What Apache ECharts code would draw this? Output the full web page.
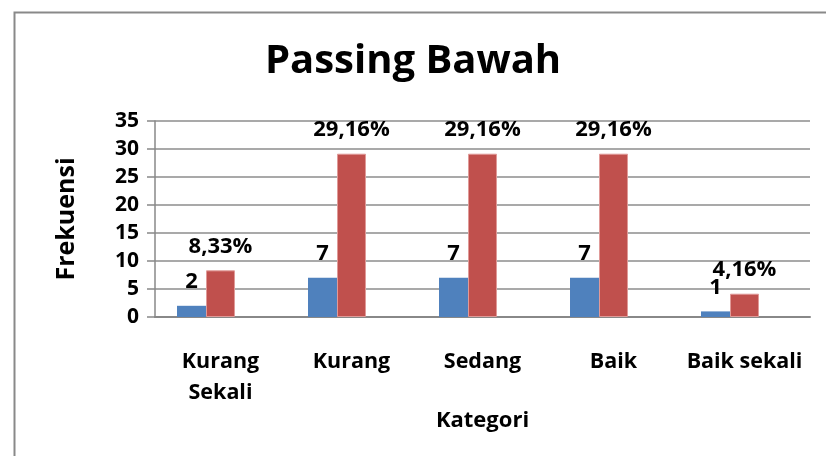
<!DOCTYPE html>
<html>
<head>
<meta charset="utf-8">
<script src="https://cdn.jsdelivr.net/npm/echarts@6/dist/echarts.min.js"></script>
<style>
 html,body{margin:0;padding:0;background:#fff}
 #chart{width:826px;height:456px}
</style>
</head>
<body>
<div id="chart"></div>
<script>
// data
const kategori=['Kurang\nSekali','Kurang','Sedang','Baik','Baik sekali'];
const frekuensi=[2,7,7,7,1];
const persen=[8.33,29.16,29.16,29.16,4.16];
const yTicks={min:0,max:35,step:5};

const font='"Open Sans", Lato, sans-serif';
const txt=(s)=>({fontFamily:font,fontSize:s,fontWeight:'bold',color:'#000'});
const c=echarts.init(document.getElementById('chart'));
c.setOption({
 animation:false,
 textStyle:{fontFamily:font},
 graphic:[{type:'rect',left:12,top:10,shape:{width:900,height:500},
  style:{fill:'none',stroke:'#898989',lineWidth:2}}],
 title:{text:'Passing Bawah',left:'center',top:37,textStyle:txt(40)},
 grid:{left:155,right:16,top:121,bottom:139},
 xAxis:{
  type:'category',data:kategori,
  name:'Kategori',nameLocation:'middle',nameGap:93,nameTextStyle:txt(22),
  axisLine:{lineStyle:{color:'#888',width:2}},
  axisTick:{show:false},
  axisLabel:Object.assign({interval:0,margin:29,lineHeight:31},txt(21.5))
 },
 yAxis:{
  type:'value',min:yTicks.min,max:yTicks.max,interval:yTicks.step,
  name:'Frekuensi',nameLocation:'middle',nameGap:76,nameTextStyle:txt(25),
  axisLine:{show:true,lineStyle:{color:'#888',width:1.5}},
  axisTick:{show:true,length:8,lineStyle:{color:'#888',width:1.5}},
  splitLine:{lineStyle:{color:'#8c8c8c',width:1.5}},
  axisLabel:Object.assign({margin:16},txt(21))
 },
 series:[
  {type:'bar',data:frekuensi,barGap:'0%',barCategoryGap:'33.6%',
   itemStyle:{color:'#4F81BD'},
   label:Object.assign({show:true,position:'top',distance:13},txt(22))},
  {type:'bar',data:persen,
   itemStyle:{color:'#C0504D',borderColor:'#e09a98',borderWidth:1},
   label:Object.assign({show:true,position:'top',distance:13,
    formatter:p=>p.value.toFixed(2).replace('.',',')+'%'},txt(22))},
  // empty third slot, keeps the pair left of the category centre
  {type:'bar',data:[]}
 ]
});
</script>
</body>
</html>
